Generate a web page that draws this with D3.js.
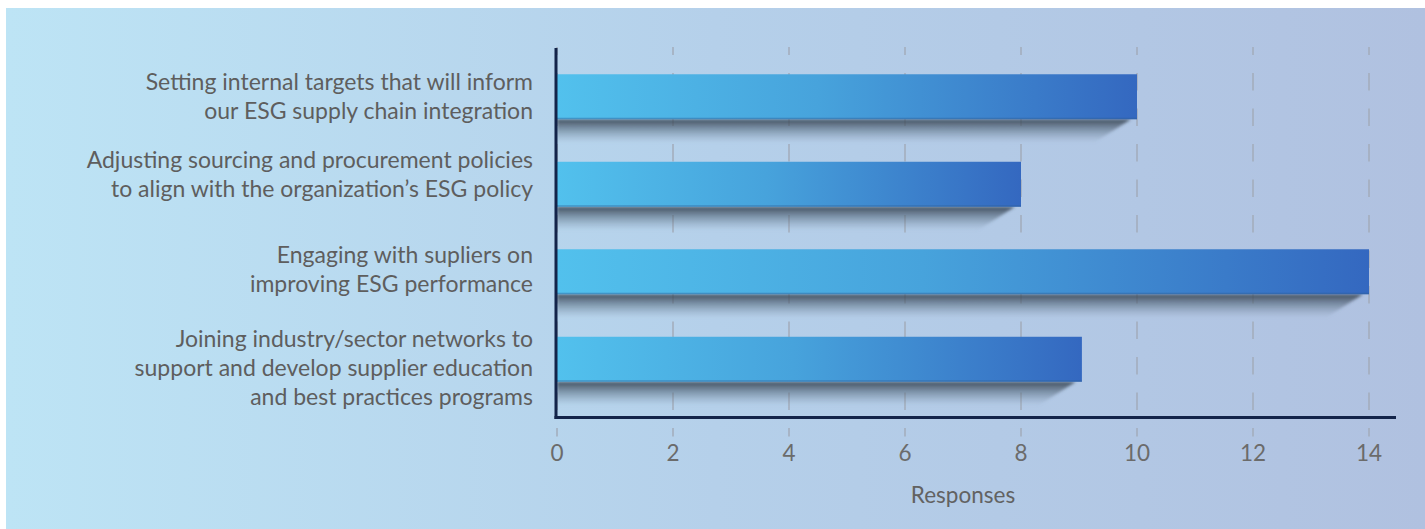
<!DOCTYPE html>
<html>
<head>
<meta charset="utf-8">
<script src="https://cdn.jsdelivr.net/npm/d3@7/dist/d3.min.js"></script>
<style>
  html, body { margin: 0; padding: 0; background: #ffffff; }
  svg { display: block; }
  text { font-family: "Lato", "Source Sans Pro", "Open Sans", sans-serif; }
</style>
</head>
<body>
<svg id="chart" width="1425" height="529"></svg>
<script>
// ESG supply-chain actions and number of responses
const categories = [
  ["Setting internal targets that will inform", "our ESG supply chain integration"],
  ["Adjusting sourcing and procurement policies", "to align with the organization\u2019s ESG policy"],
  ["Engaging with supliers on", "improving ESG performance"],
  ["Joining industry/sector networks to", "support and develop supplier education", "and best practices programs"]
];
const responses = [10, 8, 14, 9.05];
const tickValues = [0, 2, 4, 6, 8, 10, 12, 14];
const axisTitle = "Responses";

// layout
const W = 1425, H = 529;
const plot = { left: 557, right: 1369, top: 53, bottom: 403 };
const axisY = 417.5;
const labelNudge = [0, -10, -2, 9];

const svg = d3.select("#chart");
const defs = svg.append("defs");

// panel background gradient
const bg = defs.append("linearGradient").attr("id", "bgGrad")
  .attr("x1", "0%").attr("x2", "100%").attr("y1", "0%").attr("y2", "0%");
bg.append("stop").attr("offset", "0%").attr("stop-color", "#bde4f5");
bg.append("stop").attr("offset", "50%").attr("stop-color", "#b5d0ea");
bg.append("stop").attr("offset", "100%").attr("stop-color", "#b0c1e0");

// bar fill gradient
const bar = defs.append("linearGradient").attr("id", "barGrad")
  .attr("x1", "0%").attr("x2", "100%").attr("y1", "0%").attr("y2", "0%");
bar.append("stop").attr("offset", "0%").attr("stop-color", "#52c1ed");
bar.append("stop").attr("offset", "45%").attr("stop-color", "#47a3dc");
bar.append("stop").attr("offset", "100%").attr("stop-color", "#3468c0");

// shadow below bars
const sh = defs.append("linearGradient").attr("id", "shadowGrad")
  .attr("x1", "0%").attr("x2", "0%").attr("y1", "0%").attr("y2", "100%");
sh.append("stop").attr("offset", "0%").attr("stop-color", "#34414f").attr("stop-opacity", 0.9);
sh.append("stop").attr("offset", "45%").attr("stop-color", "#4f6174").attr("stop-opacity", 0.5);
sh.append("stop").attr("offset", "100%").attr("stop-color", "#7a90a8").attr("stop-opacity", 0);
defs.append("filter").attr("id", "soft").attr("x", "-5%").attr("y", "-50%").attr("width", "110%").attr("height", "200%")
  .append("feGaussianBlur").attr("stdDeviation", 1.4);

svg.append("rect").attr("x", 6).attr("y", 8).attr("width", W - 6).attr("height", H - 8)
  .attr("fill", "url(#bgGrad)");

const x = d3.scaleLinear().domain([0, 14]).range([plot.left, plot.right]);
const y = d3.scaleBand().domain(d3.range(categories.length))
  .range([plot.top, plot.bottom]).paddingInner(0.486).paddingOuter(0.243);

// dashed vertical grid lines (run below the axis as tick marks)
svg.append("g").selectAll("line").data(tickValues).join("line")
  .attr("x1", d => x(d)).attr("x2", d => x(d))
  .attr("y1", 47).attr("y2", 436.5)
  .attr("stroke", "#a3acba").attr("stroke-width", 1.5)
  .attr("stroke-dasharray", "17.5 18").attr("stroke-dashoffset", 9.5);

// bar shadows
const bw = y.bandwidth();
svg.append("g").attr("filter", "url(#soft)").selectAll("path").data(responses).join("path")
  .attr("d", (d, i) => {
    const yb = y(i) + bw, x0 = x(0), x1 = x(d);
    return `M${x0},${yb} L${x1 - 6},${yb} L${x1 - 44},${yb + 24} L${x0},${yb + 24} Z`;
  })
  .attr("fill", "url(#shadowGrad)");

// bars
const bars = svg.append("g");
bars.selectAll("rect.bar").data(responses).join("rect").attr("class", "bar")
  .attr("x", x(0)).attr("y", (d, i) => y(i))
  .attr("width", d => x(d) - x(0)).attr("height", bw)
  .attr("fill", "url(#barGrad)");
bars.selectAll("line.edge").data(responses).join("line").attr("class", "edge")
  .attr("x1", x(0)).attr("x2", d => x(d))
  .attr("y1", (d, i) => y(i) + bw - 0.75).attr("y2", (d, i) => y(i) + bw - 0.75)
  .attr("stroke", "#2f5f96").attr("stroke-opacity", 0.45).attr("stroke-width", 1.5);

// axes lines
svg.append("line").attr("x1", x(0) - 1).attr("x2", x(0) - 1).attr("y1", 48).attr("y2", axisY + 1.5)
  .attr("stroke", "#13244a").attr("stroke-width", 3);
svg.append("line").attr("x1", x(0) - 2.5).attr("x2", 1396).attr("y1", axisY).attr("y2", axisY)
  .attr("stroke", "#13244a").attr("stroke-width", 3);

// tick labels
svg.append("g").selectAll("text").data(tickValues).join("text")
  .attr("x", d => x(d)).attr("y", 461)
  .attr("text-anchor", "middle").attr("font-size", 22.5).attr("fill", "#6b6b6b")
  .text(d => d);

svg.append("text").attr("x", 963).attr("y", 503)
  .attr("text-anchor", "middle").attr("font-size", 22.5).attr("fill", "#626262")
  .text(axisTitle);

// category labels
const lineH = 29;
const cat = svg.append("g");
categories.forEach((lines, i) => {
  const cy = y(i) + bw / 2 + labelNudge[i];
  const t = cat.append("text").attr("text-anchor", "end").attr("font-size", 23).attr("fill", "#5e5e5e");
  lines.forEach((ln, j) => {
    t.append("tspan").attr("x", 533)
      .attr("y", cy + (j - (lines.length - 1) / 2) * lineH + 8)
      .text(ln);
  });
});
</script>
</body>
</html>
